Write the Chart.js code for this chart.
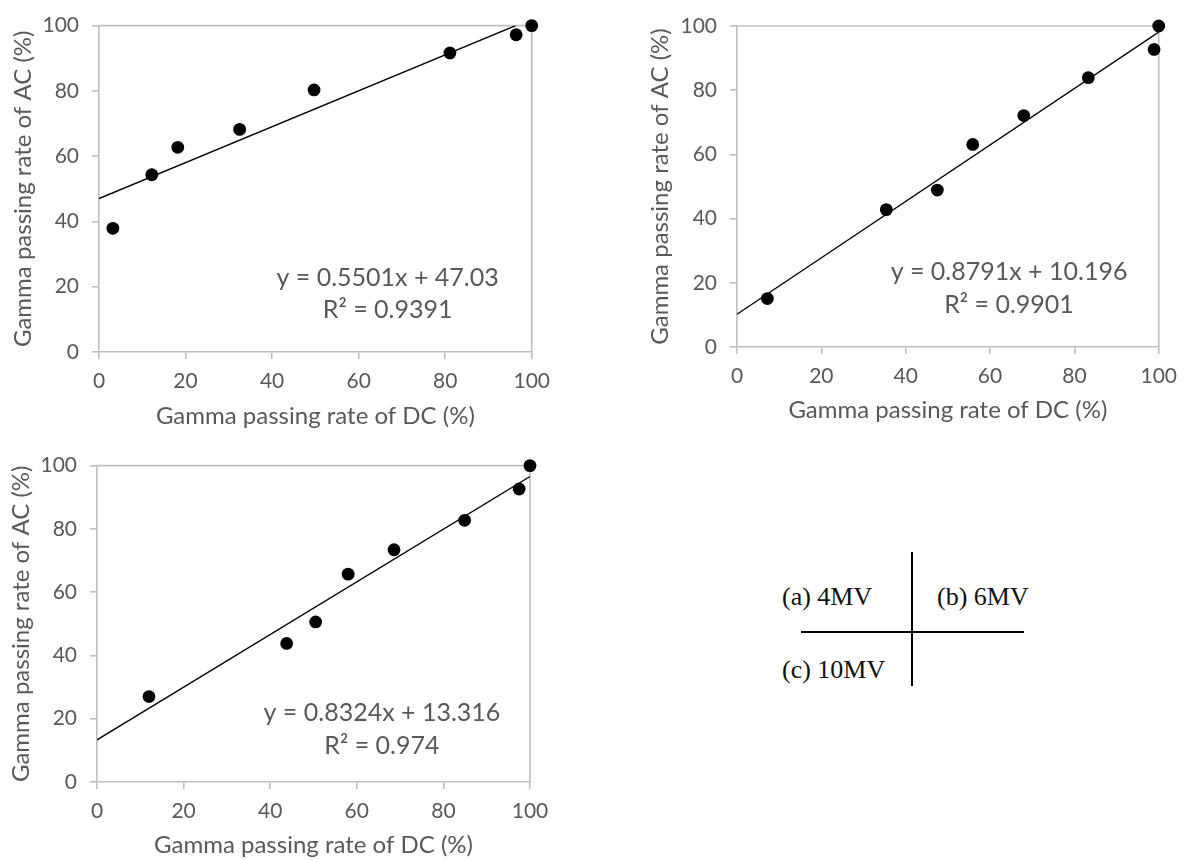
<!DOCTYPE html>
<html><head><meta charset="utf-8">
<script src="https://cdn.jsdelivr.net/npm/chart.js@4.4.1/dist/chart.umd.min.js"></script>
<style>
html,body{margin:0;padding:0;background:#fff;width:1187px;height:860px;overflow:hidden;position:relative}
.box{position:absolute}
.lg{position:absolute;font-family:"Liberation Serif","DejaVu Serif",serif;font-size:26px;color:#111;white-space:nowrap;line-height:30px}
.ln{position:absolute;background:#000}
</style></head><body>
<div class="box" id="b1" style="left:0;top:0;width:560px;height:440px"><canvas id="c1"></canvas></div>
<div class="box" id="b2" style="left:600px;top:0;width:587px;height:440px"><canvas id="c2"></canvas></div>
<div class="box" id="b3" style="left:0;top:440px;width:560px;height:420px"><canvas id="c3"></canvas></div>

<div class="ln" style="left:911px;top:552px;width:2px;height:134px"></div>
<div class="ln" style="left:801px;top:631px;width:223px;height:2px"></div>
<div class="lg" style="left:782px;top:582px">(a) 4MV</div>
<div class="lg" style="left:937px;top:582px">(b) 6MV</div>
<div class="lg" style="left:782px;top:655px">(c) 10MV</div>

<script>
// ---- data ----
const xTicks = [0, 20, 40, 60, 80, 100];
const yTicks = [0, 20, 40, 60, 80, 100];

const dc4MV = [3.2, 12.2, 18.2, 32.5, 49.7, 81.1, 96.4, 100];
const ac4MV = [37.9, 54.3, 62.7, 68.2, 80.3, 91.6, 97.2, 100];
const fit4MV = {slope: 0.5501, intercept: 47.03, r2: '0.9391', eq: 'y = 0.5501x + 47.03'};

const dc6MV = [7.2, 35.4, 47.5, 55.9, 68.0, 83.3, 98.9, 100];
const ac6MV = [15.1, 42.8, 48.9, 63.1, 72.1, 83.9, 92.7, 100];
const fit6MV = {slope: 0.8791, intercept: 10.196, r2: '0.9901', eq: 'y = 0.8791x + 10.196'};

const dc10MV = [12.0, 43.8, 50.5, 58.0, 68.6, 84.9, 97.5, 100];
const ac10MV = [27.0, 43.8, 50.6, 65.7, 73.4, 82.7, 92.6, 100];
const fit10MV = {slope: 0.8324, intercept: 13.316, r2: '0.974', eq: 'y = 0.8324x + 13.316'};

const xTitle = 'Gamma passing rate of DC (%)';
const yTitle = 'Gamma passing rate of AC (%)';

// ---- style ----
const F = 'Lato, "Open Sans", sans-serif';
const TXT = '#595959';
const AXIS = '#bfbfbf';
const AXW = 1.6;

const framePlugin = {
  id: 'frame',
  beforeDatasetsDraw(chart) {
    const {ctx, chartArea: a} = chart;
    ctx.save();
    ctx.strokeStyle = AXIS; ctx.lineWidth = AXW;
    ctx.beginPath();
    ctx.moveTo(a.left, a.top); ctx.lineTo(a.right, a.top); ctx.lineTo(a.right, a.bottom);
    ctx.stroke();
    ctx.restore();
  },
  afterDatasetsDraw(chart, args, o) {
    if (!o || !o.lines) return;
    const {ctx, scales} = chart;
    ctx.save();
    ctx.fillStyle = TXT;
    ctx.font = o.size + 'px ' + F;
    ctx.textAlign = 'center';
    ctx.textBaseline = 'middle';
    const px = scales.x.getPixelForValue(o.x);
    o.lines.forEach((t, i) => ctx.fillText(t, px, scales.y.getPixelForValue(o.y[i])));
    ctx.restore();
  }
};

function makeChart(id, W, H, plot, yTitleX, xTitleY, dc, ac, fit, eqPos) {
  const pts = dc.map((v, i) => ({x: v, y: ac[i]}));
  let xe = 100;
  if (fit.slope * 100 + fit.intercept > 100) xe = (100 - fit.intercept) / fit.slope;
  const line = [{x: 0, y: fit.intercept}, {x: xe, y: fit.slope * xe + fit.intercept}];
  const tickFont = {family: F, size: 21};
  const titleFont = {family: F, size: 24};
  const lh = 24 * 1.2;
  new Chart(document.getElementById(id), {
    type: 'scatter',
    data: {datasets: [
      {type: 'line', data: line, borderColor: '#000', borderWidth: 1.4, pointRadius: 0, fill: false, order: 0},
      {data: pts, backgroundColor: '#000', borderWidth: 0, pointRadius: 6.4, clip: false, order: 1}
    ]},
    options: {
      responsive: true, maintainAspectRatio: false, animation: false,
      layout: {padding: {top: plot.t, right: W - plot.r, left: 0, bottom: 0}},
      plugins: {legend: {display: false}, tooltip: {enabled: false},
        frame: {lines: [fit.eq, 'R\u00B2 = ' + fit.r2], x: eqPos.x, y: eqPos.y, size: 25}},
      scales: {
        x: {type: 'linear', min: 0, max: 100,
          afterBuildTicks(s) { s.ticks = xTicks.map(v => ({value: v})); },
          ticks: {color: TXT, font: tickFont, padding: 10, maxRotation: 0},
          grid: {drawOnChartArea: false, drawTicks: true, tickLength: 7, color: AXIS, lineWidth: AXW},
          border: {color: AXIS, width: AXW},
          title: {display: true, text: xTitle, color: TXT, font: titleFont,
            padding: {top: 0, bottom: Math.max(0, H - xTitleY - lh / 2)}},
          afterFit(s) { s.height = H - plot.b; }
        },
        y: {type: 'linear', min: 0, max: 100,
          afterBuildTicks(s) { s.ticks = yTicks.map(v => ({value: v})); },
          ticks: {color: TXT, font: tickFont, padding: 13},
          grid: {drawOnChartArea: false, drawTicks: true, tickLength: 7, color: AXIS, lineWidth: AXW},
          border: {color: AXIS, width: AXW},
          title: {display: true, text: yTitle, color: TXT, font: titleFont,
            padding: {top: Math.max(0, yTitleX - lh / 2), bottom: 0}},
          afterFit(s) { s.width = plot.l; }
        }
      }
    },
    plugins: [framePlugin]
  });
}

makeChart('c1', 560, 440, {l: 99, t: 24, r: 539, b: 352}, 23, 416, dc4MV, ac4MV, fit4MV, {x: 66.7, y: [22.7, 13.0]});
makeChart('c2', 587, 440, {l: 137, t: 26, r: 569, b: 347}, 60, 410, dc6MV, ac6MV, fit6MV, {x: 64.5, y: [23.4, 13.0]});
makeChart('c3', 560, 420, {l: 97, t: 20, r: 530, b: 342}, 21, 406, dc10MV, ac10MV, fit10MV, {x: 65.8, y: [21.7, 11.4]});
</script>
</body></html>
